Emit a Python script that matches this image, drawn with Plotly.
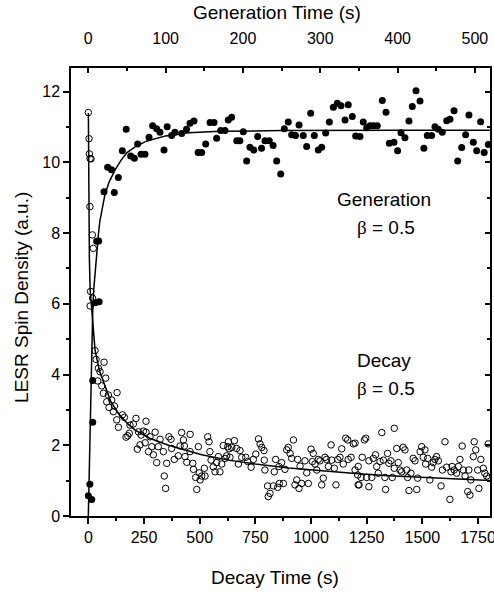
import plotly.graph_objects as go

# ---------------- data ----------------
# Generation (filled circles), top axis: generation time (s)
gen_time = [0, 2, 4.4, 5.7, 5.7, 9, 14, 10.8, 13.4, 20.3, 25, 30, 33.6, 38.8, 44, 49, 54.8, 59.5,
            63.8, 68.2, 73.3, 78.5, 83.2, 88.4, 92.7, 97.9, 102, 107.8, 112, 120.8, 127, 131.5,
            136.7, 142, 146.6, 151.8, 157.4, 162.6, 166, 171.2, 176.8, 181, 185.4, 192, 196,
            200.4, 204.8, 209, 214, 219, 224, 228.5, 234, 239, 243.6, 248.8, 253.5, 258.6, 263,
            268, 272.5, 278, 282.4, 287.6, 292.3, 297.4, 301.8, 307, 311.7, 316.9, 322, 326.8,
            332, 336.2, 341.4, 345.8, 351.4, 355.6, 360, 364.3, 368.6, 373.7, 380.2, 385, 389.3,
            395.3, 400, 404.4, 409.5, 414.7, 419, 423.8, 429, 434, 438.4, 444, 448.3, 452.6,
            457.8, 463.5, 467.7, 473, 477.7, 482.9, 488, 492.3, 497.9, 502.3, 507.4, 512, 517.3]
gen_signal = [0.57, 0.9, 0.47, 2.65, 3.83, 6.03, 6.06, 7.77, 7.78, 9.17, 9.86, 9.79, 9.15, 9.57,
              10.33, 10.94, 10.18, 10.12, 10.52, 10.23, 10.23, 10.71, 11.04, 10.95, 10.85, 10.35,
              11.01, 10.76, 10.85, 10.82, 10.94, 11.11, 11.17, 10.28, 10.28, 10.52, 11.13, 11.13,
              10.68, 10.9, 10.9, 11.2, 11.28, 10.61, 10.61, 10.87, 10.04, 10.43, 10.35, 10.73,
              10.4, 10.61, 10.61, 10.48, 10.04, 9.67, 10.95, 11.14, 10.78, 10.76, 11.06, 10.76,
              10.45, 11.39, 10.76, 10.35, 10.43, 10.83, 11.14, 11.56, 11.67, 11.6, 11.2, 11.63,
              11.3, 10.75, 10.73, 11.14, 10.98, 11.04, 11.04, 11.04, 11.75, 11.42, 10.54, 10.57,
              10.33, 10.84, 10.7, 11.17, 11.58, 12.03, 11.74, 10.4, 10.76, 10.76, 11.01, 10.94,
              10.85, 11.18, 11.22, 11.46, 10.04, 10.42, 10.78, 11.34, 10.57, 10.33, 11.15, 10.28,
              10.51]

# Decay (open circles), bottom axis: decay time (s)
decay_time = [0, 3, 4.5, 7.5, 12, 7, 18, 22, 10, 19, 8,
              30, 34.6, 70.5, 45, 52.5, 78, 42, 60, 67.5, 90, 129, 105, 82.5, 117, 93, 112, 153,
              162, 127.5, 214, 259, 135, 187, 202, 169, 177, 184, 225, 247, 237, 259, 277, 300,
              232, 255, 220, 270, 285, 292, 307, 314, 322, 341, 347, 352, 337, 362, 371, 374, 386,
              404, 419, 427, 431, 412, 434, 442, 457, 457, 469, 472, 482, 487, 498, 502, 509, 494,
              521, 524, 536, 542, 546, 551, 561, 569, 576, 584, 591, 599, 606, 614, 626, 629,
              656, 644, 632, 666, 681, 689, 636, 621, 674, 707, 716, 731, 741, 752, 764, 771, 779,
              789, 790, 793, 805, 816, 808, 835, 831, 841, 850, 858, 856, 868, 876, 883, 891, 898,
              906, 921, 913, 928, 936, 946, 951, 958, 940, 973, 981, 988, 1000, 1010, 1006, 1018,
              1026, 1033, 1040, 1048, 1055, 1063, 1070, 1078, 1090, 1093, 1105, 1112, 1120, 1130,
              1138, 1145, 1156, 1165, 1167, 1180, 1190, 1198, 1210, 1212,
              1198, 1212, 1216, 1230, 1225, 1240, 1246, 1250, 1260, 1260, 1273, 1280, 1290, 1295,
              1302, 1310, 1318, 1325, 1332, 1335, 1344, 1350, 1359, 1365, 1374, 1374, 1385, 1392,
              1400, 1407, 1414, 1422, 1430, 1434, 1440, 1449, 1459, 1467, 1475, 1479, 1490, 1497,
              1504, 1512, 1515, 1524, 1534, 1542, 1549, 1557, 1564, 1572, 1584, 1590, 1602, 1609,
              1624, 1629, 1634, 1643, 1654, 1662, 1669, 1679, 1684, 1692, 1704, 1714, 1709, 1718,
              1729, 1733, 1740, 1749, 1754, 1763, 1774, 1781, 1789, 1796, 1799]
decay_signal = [11.41, 10.67, 10.24, 10.11, 10.1, 8.75, 7.95, 7.57, 6.35, 6.16, 5.94,
                4.68, 4.43, 4.35, 4.18, 4.08, 3.9, 3.82, 3.68, 3.47, 3.42, 3.49, 3.28, 3.23, 3.11,
                3.07, 2.95, 2.86, 2.79, 2.72, 2.76, 2.68, 2.51, 2.57, 2.6, 2.23, 2.27, 2.34, 2.38,
                2.4, 2.29, 2.37, 2.24, 2.37, 2.01, 2.07, 1.89, 1.82, 1.96, 1.73, 1.51, 1.96, 2.17,
                1.13, 0.78, 1.49, 1.82, 2.24, 2.17, 1.91, 1.6, 1.7, 2.36, 2.15, 1.98, 1.98, 1.68,
                1.52, 1.82, 2.31, 1.49, 1.32, 1.09, 0.75, 1.22, 1.02, 1.13, 1.96, 1.35, 1.13, 2.24,
                2.1, 1.82, 1.58, 1.39, 1.25, 1.51, 1.68, 1.25, 1.47, 1.99, 1.63, 1.96, 2.1,
                2.13, 1.94, 1.9, 1.91, 1.85, 1.66, 1.66, 1.7, 1.47, 1.66, 1.54, 1.38, 1.6, 1.75,
                2.18, 2.04, 1.94, 1.85, 1.58, 1.3, 0.85, 0.64, 0.55, 1.25, 0.85, 1.6, 0.81, 0.92,
                1.4, 1.51, 0.92, 1.32, 1.87, 1.94, 1.77, 2.15, 1.63, 0.88, 1.02, 0.78, 1.41, 0.92,
                1.6, 1.56, 1.22, 0.92, 1.89, 1.77, 1.54, 1.47, 1.3, 1.6, 1.56, 0.88, 1.07, 1.66,
                1.6, 1.4, 2.01, 1.58, 1.35, 0.88, 1.6, 1.66, 1.9, 1.47, 2.2, 2.15, 1.6, 1.66, 2.04,
                1.3, 1.16, 0.88,
                2.06, 1.4, 0.88, 1.66, 1.09, 2.15, 2.2, 1.09, 0.83, 1.56, 1.09, 1.63, 1.73, 1.4,
                1.21, 1.54, 2.36, 1.58, 1.09, 0.75, 1.77, 1.49, 1.56, 1.09, 2.48, 1.35, 1.91, 1.51,
                1.3, 1.25, 1.94, 1.87, 1.3, 1.09, 0.72, 1.21, 1.63, 1.56, 0.75, 1.07, 1.82, 1.96,
                1.66, 1.87, 1.47, 1.63, 1.02, 1.38, 1.51, 1.6, 1.68, 1.56, 0.85, 1.3, 2.1, 1.38,
                0.47, 1.25, 1.4, 1.3, 1.21, 1.4, 1.6, 1.98, 1.3, 1.13, 0.69, 0.59, 1.3, 1.02,
                1.68, 2.1, 1.87, 1.3, 0.78, 1.6, 1.35, 1.21, 1.13, 2.04, 1.07]

# Fitted curves (stretched exponential, beta = 0.5)
gen_fit_time = [0, 1, 2.2, 3.5, 4.5, 5.7, 7, 8.5, 10.8, 13, 15, 18, 21.6, 27, 35, 42, 50, 60,
                75, 100, 130, 170, 250, 400, 525]
gen_fit_signal = [0, 1.1, 2.45, 3.9, 4.9, 5.8, 6.4, 6.85, 7.4, 7.95, 8.35, 8.75, 9.1, 9.45, 9.8,
                  10.05, 10.28, 10.43, 10.6, 10.75, 10.84, 10.88, 10.9, 10.91, 10.91]
decay_fit_time = [0, 1, 2.5, 4.5, 8, 15, 25, 30, 50, 75, 100, 135, 175, 210, 275, 360, 450, 509,
                  629, 750, 900, 1050, 1200, 1350, 1500, 1650, 1810]
decay_fit_signal = [11.4, 10.2, 8.8, 7.3, 6.4, 5.8, 5.0, 4.7, 4.1, 3.66, 3.25, 2.9, 2.62, 2.43,
                    2.2, 2.0, 1.83, 1.73, 1.58, 1.47, 1.36, 1.27, 1.2, 1.14, 1.09, 1.04, 1.0]

decay_ticks = [0, 250, 500, 750, 1000, 1250, 1500, 1750]
decay_tick_labels = ["0", "250", "500", "750", "1000", "1250", "1500", "1750"]
gen_ticks = [0, 100, 200, 300, 400, 500]
gen_tick_labels = ["0", "100", "200", "300", "400", "500"]
signal_ticks = [0, 2, 4, 6, 8, 10, 12]
signal_tick_labels = ["0", "2", "4", "6", "8", "10", "12"]

# ---------------- figure ----------------
FONT = "Liberation Sans, Arial, sans-serif"
BLACK = "black"

fig = go.Figure()
fig.add_trace(go.Scatter(x=decay_fit_time, y=decay_fit_signal, mode="lines",
                         line=dict(color=BLACK, width=1.5), xaxis="x", yaxis="y",
                         showlegend=False, hoverinfo="skip"))
fig.add_trace(go.Scatter(x=gen_fit_time, y=gen_fit_signal, mode="lines",
                         line=dict(color=BLACK, width=1.5), xaxis="x2", yaxis="y",
                         showlegend=False, hoverinfo="skip"))
fig.add_trace(go.Scatter(x=decay_time, y=decay_signal, mode="markers",
                         marker=dict(symbol="circle-open", size=6.5, color=BLACK,
                                     line=dict(width=1, color=BLACK)),
                         xaxis="x", yaxis="y", showlegend=False, name="Decay"))
fig.add_trace(go.Scatter(x=gen_time, y=gen_signal, mode="markers",
                         marker=dict(symbol="circle", size=7, color=BLACK),
                         xaxis="x2", yaxis="y", showlegend=False, name="Generation"))
# empty trace so the right-hand mirror axis is drawn
fig.add_trace(go.Scatter(x=[None], y=[None], mode="markers", xaxis="x", yaxis="y2",
                         showlegend=False, hoverinfo="skip"))

axis_common = dict(showline=True, linecolor=BLACK, linewidth=1.5, showgrid=False,
                   zeroline=False, tickcolor=BLACK, tickwidth=1.5, automargin=False,
                   tickfont=dict(family=FONT, size=16, color=BLACK))

fig.update_layout(
    width=494, height=594,
    margin=dict(l=71, r=4, t=68, b=78, pad=0, autoexpand=False),
    paper_bgcolor="white", plot_bgcolor="white",
    font=dict(family=FONT, color=BLACK),
    xaxis=dict(range=[-78, 1804], tickmode="array", tickvals=decay_ticks,
               ticktext=decay_tick_labels, ticks="outside", ticklen=6, anchor="y",
               ticklabeloverflow="allow",
               minor=dict(dtick=125, tick0=0, ticks="outside", ticklen=3,
                          tickwidth=1.5, tickcolor=BLACK),
               **axis_common),
    xaxis2=dict(range=[-22.4, 519.5], overlaying="x", side="top", anchor="y",
                tickmode="array", tickvals=gen_ticks, ticktext=gen_tick_labels,
                ticks="inside", ticklen=5, ticklabelstandoff=16,
                ticklabeloverflow="allow",
                minor=dict(dtick=50, tick0=0, ticks="inside", ticklen=3,
                           tickwidth=1.5, tickcolor=BLACK),
                **axis_common),
    yaxis=dict(range=[0, 12.67], tickmode="array", tickvals=signal_ticks,
               ticktext=signal_tick_labels, ticks="outside", ticklen=6, anchor="x",
               minor=dict(dtick=1, tick0=0, ticks="outside", ticklen=3,
                          tickwidth=1.5, tickcolor=BLACK),
               **axis_common),
    yaxis2=dict(range=[0, 12.67], overlaying="y", side="right", anchor="x",
                tickmode="array", tickvals=signal_ticks, showticklabels=False,
                ticks="inside", ticklen=5,
                minor=dict(dtick=1, tick0=0, ticks="inside", ticklen=3,
                           tickwidth=1.5, tickcolor=BLACK),
                **axis_common),
)

ann_font = dict(family=FONT, size=19, color=BLACK)
beta = '<span style="font-family:Liberation Serif">β</span> = 0.5'
annotations = [
    dict(text="Generation Time (s)", x=0.4916, y=1.1228),
    dict(text="Decay Time (s)", x=0.4857, y=-0.138),
    dict(text="LESR Spin Density (a.u.)", x=-0.117, y=0.489, textangle=-90),
    dict(text="Generation", x=0.747, y=0.7054),
    dict(text=beta, x=0.752, y=0.645),
    dict(text="Decay", x=0.748, y=0.346),
    dict(text=beta, x=0.752, y=0.2857),
]
for a in annotations:
    fig.add_annotation(xref="paper", yref="paper", xanchor="center", yanchor="middle",
                       showarrow=False, font=ann_font, **a)

fig.write_html("out.html")
